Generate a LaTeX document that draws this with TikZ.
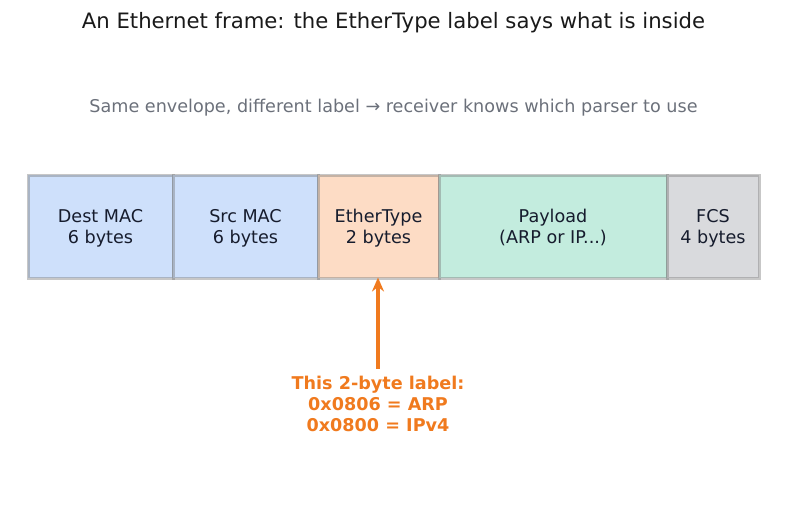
\documentclass[tikz,border=0pt]{standalone}
\usepackage{fontspec}
\setmainfont{DejaVu Sans}
\usetikzlibrary{positioning,arrows.meta}

\definecolor{macblue}{RGB}{206,224,251}
\definecolor{typeorange}{RGB}{253,220,197}
\definecolor{loadgreen}{RGB}{195,236,222}
\definecolor{fcsgray}{RGB}{217,218,221}
\definecolor{labelorange}{RGB}{240,122,30}
\definecolor{subgray}{RGB}{107,112,122}
\definecolor{textdark}{RGB}{22,28,45}

\begin{document}
\begin{tikzpicture}[x=1pt,y=-1pt,
    field/.style={draw=black!55,draw opacity=0.4,line width=3pt,minimum height=103pt,
        inner sep=0pt,align=center,text=textdark,font=\fontsize{17.6}{21.5}\selectfont},
    pointer/.style={-{Stealth[length=14pt,width=12pt]},line width=3.4pt,draw=labelorange}]
    \useasboundingbox (0,0) rectangle (787,508);

    \node[font=\fontsize{21.2}{25}\selectfont,text=black!90] (title) at (393.5,23) {An Ethernet frame: the EtherType label says what is inside};
    \node[font=\fontsize{17.6}{20}\selectfont,text=subgray] (sub) at (393.5,108) {Same envelope, different label → receiver knows which parser to use};

    % the five fields of the frame
    \foreach \n/\xa/\xb/\col/\txt in {dest/28/173/macblue/{Dest MAC\\6 bytes},
            src/173/318/macblue/{Src MAC\\6 bytes},
            ether/318/439/typeorange/{EtherType\\2 bytes},
            payload/439/667/loadgreen/{Payload\\(ARP or IP...)},
            fcs/667/759/fcsgray/{FCS\\4 bytes}}
        \node[field,fill=\col,minimum width={\xb-\xa},text depth=0pt] (\n) at ({(\xa+\xb)/2},226.5) {\txt};

    \node[align=center,text=labelorange,font=\bfseries\fontsize{17.6}{21}\selectfont] (note) at (378,404) {This 2-byte label:\\0x0806 = ARP\\0x0800 = IPv4};
    \draw[pointer] ([yshift=4pt]note.north) -- ([yshift=2pt]note.north |- ether.south);
\end{tikzpicture}
\end{document}
